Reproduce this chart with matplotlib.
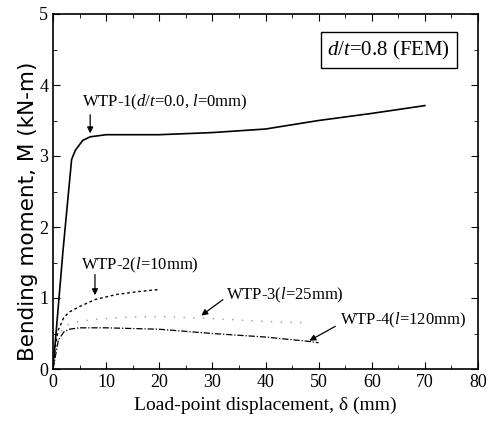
import matplotlib.pyplot as plt
from matplotlib.ticker import MultipleLocator

plt.rcParams['font.family'] = ['Liberation Serif', 'DejaVu Serif']
plt.rcParams['mathtext.fontset'] = 'custom'
plt.rcParams['mathtext.rm'] = 'Liberation Serif'
plt.rcParams['mathtext.it'] = 'Liberation Serif:italic'

# WTP-1 (d/t=0.0, l=0mm)
x1 = [0, 1.9, 3.5, 4.2, 5.6, 7, 10, 20, 30, 40, 50, 60, 70]
m1 = [0, 1.68, 2.95, 3.08, 3.22, 3.27, 3.3, 3.3, 3.33, 3.38, 3.5, 3.6, 3.71]
# WTP-2 (l=10mm)
x2 = [0, 0.5, 1, 2, 3, 5, 8, 12, 16, 20]
m2 = [0, 0.35, 0.55, 0.72, 0.8, 0.88, 0.98, 1.05, 1.09, 1.12]
# WTP-3 (l=25mm)
x3 = [0, 1, 2, 4, 8, 14, 20, 30, 40, 48]
m3 = [0, 0.45, 0.6, 0.66, 0.7, 0.73, 0.74, 0.71, 0.67, 0.65]
# WTP-4 (l=120mm)
x4 = [0, 1, 2, 3, 5, 10, 20, 30, 40, 48, 50]
m4 = [0, 0.4, 0.52, 0.56, 0.58, 0.58, 0.56, 0.5, 0.45, 0.39, 0.37]

fig = plt.figure(figsize=(4.88, 4.29), dpi=100)
ax = fig.add_axes([53/488, 60/429, 425/488, 355/429])

ax.plot(x1, m1, color='black', lw=1.2)
ax.plot(x2, m2, color='black', lw=1.0, ls=(0, (2, 2)))
ax.plot(x3, m3, color='#999999', lw=1.0, ls=(0, (1, 6)))
ax.plot(x4, m4, color='black', lw=0.9, ls=(0, (5, 1.5, 1, 1.5)))

ax.set_xlim(0, 80)
ax.set_ylim(0, 5)
ax.xaxis.set_major_locator(MultipleLocator(10))
ax.xaxis.set_minor_locator(MultipleLocator(5))
ax.yaxis.set_major_locator(MultipleLocator(1))
ax.yaxis.set_minor_locator(MultipleLocator(0.5))
ax.tick_params(which='both', direction='in', top=True, right=True, labelsize=13)
ax.tick_params(which='major', length=5)
ax.tick_params(which='minor', length=3)
for s in ax.spines.values():
    s.set_linewidth(1.2)

ax.set_xlabel('Load-point displacement, δ (mm)', fontsize=14, labelpad=4)
ax.set_ylabel('Bending moment, M (kN-m)', fontsize=15.5, family='DejaVu Sans')
ax.yaxis.set_label_coords(-0.036, 0.445)

ax.text(74.8, 4.49, r'$d/t$=0.8 (FEM)', fontsize=15, ha='right', va='center',
        bbox=dict(boxstyle='square,pad=0.3', fc='white', ec='black', lw=1))

arrow = dict(arrowstyle='-|>', color='black', lw=0.9, mutation_scale=9)
ax.text(5.5, 3.76, r'WTP-1($d/t$=0.0, $l$=0mm)', fontsize=12, ha='left', va='center')
ax.annotate('', xy=(7, 3.28), xytext=(7, 3.62), arrowprops=arrow)
ax.text(5.2, 1.46, r'WTP-2($l$=10mm)', fontsize=12, ha='left', va='center')
ax.annotate('', xy=(7.9, 1.0), xytext=(7.9, 1.37), arrowprops=arrow)
ax.text(32.6, 1.04, r'WTP-3($l$=25mm)', fontsize=12, ha='left', va='center')
ax.annotate('', xy=(27.5, 0.73), xytext=(32.4, 1.0), arrowprops=arrow)
ax.text(54.0, 0.69, r'WTP-4($l$=120mm)', fontsize=12, ha='left', va='center')
ax.annotate('', xy=(47.8, 0.38), xytext=(53.6, 0.62), arrowprops=arrow)

fig.savefig('out.png', dpi=100)
